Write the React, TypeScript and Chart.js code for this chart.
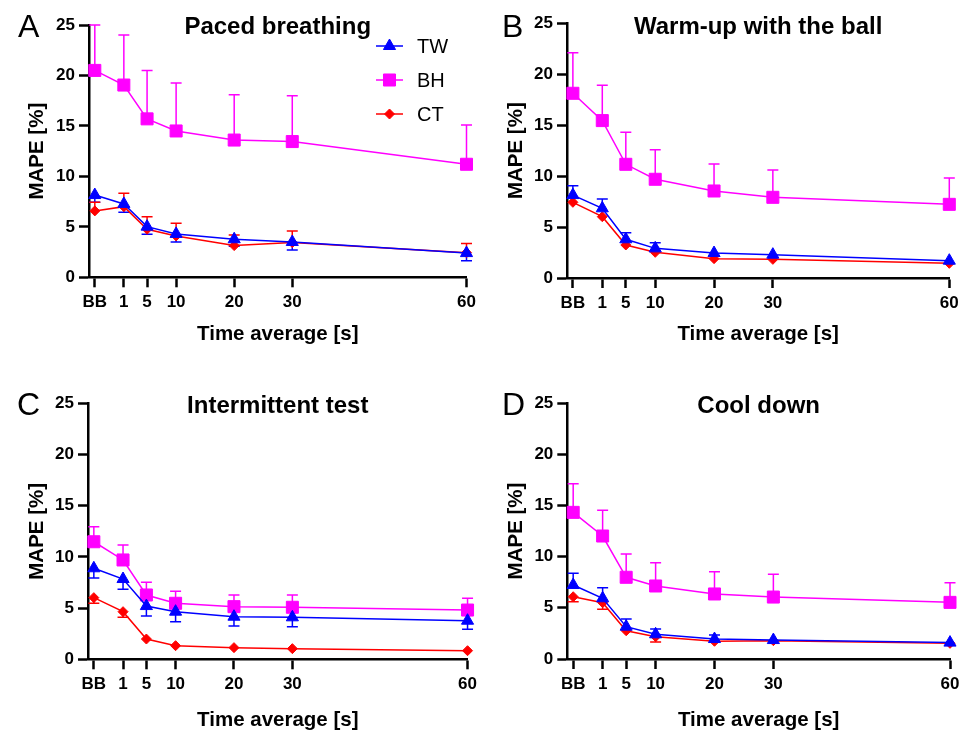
import React, { useEffect, useRef } from "react";
import { Chart, registerables } from "chart.js";

Chart.register(...registerables);

// ---------- data ----------
const xValues = [-4, 1, 5, 10, 20, 30, 60];
const xTickLabels = ["BB", "1", "5", "10", "20", "30", "60"];
const yTicks = [0, 5, 10, 15, 20, 25];

const seriesNames = ["TW", "BH", "CT"];
const seriesColors = ["#0000FF", "#FF00FF", "#FF0000"];
const seriesPointStyles = ["triangle", "rect", "rectRot"];
const seriesPointRadii = [7, 8.5, 5];

// A - Paced breathing
const A_TW = [8.15, 7.27, 5.02, 4.3, 3.77, 3.5, 2.4];
const A_TW_err = [0.72, 0.82, 0.75, 0.8, 0.7, 0.8, 0.76];
const A_BH = [20.5, 19.05, 15.7, 14.5, 13.6, 13.45, 11.2];
const A_BH_err = [4.5, 4.95, 4.8, 4.75, 4.5, 4.55, 3.9];
const A_CT = [6.58, 7.0, 4.76, 4.1, 3.14, 3.44, 2.44];
const A_CT_err = [0.85, 1.33, 1.25, 1.25, 1.06, 1.15, 0.9];
const A_dirs = ["down", "up", "up"];

// B - Warm-up with the ball
const B_TW = [8.14, 6.84, 3.8, 2.91, 2.45, 2.29, 1.7];
const B_TW_err = [0.92, 0.91, 0.65, 0.55, 0, 0, 0];
const B_BH = [18.13, 15.45, 11.16, 9.69, 8.54, 7.92, 7.23];
const B_BH_err = [3.99, 3.46, 3.14, 2.91, 2.65, 2.68, 2.59];
const B_CT = [7.43, 6.02, 3.24, 2.52, 1.9, 1.83, 1.44];
const B_CT_err = [0, 0, 0, 0, 0, 0, 0];
const B_dirs = ["up", "up", "down"];

// C - Intermittent test
const C_TW = [8.89, 7.84, 5.2, 4.65, 4.16, 4.1, 3.77];
const C_TW_err = [0.95, 1.0, 0.97, 0.98, 0.91, 0.92, 0.84];
const C_BH = [11.48, 9.7, 6.28, 5.47, 5.14, 5.08, 4.81];
const C_BH_err = [1.47, 1.46, 1.24, 1.17, 1.14, 1.2, 1.15];
const C_CT = [6.02, 4.65, 1.98, 1.33, 1.14, 1.04, 0.84];
const C_CT_err = [0.55, 0.55, 0, 0, 0, 0, 0];
const C_dirs = ["down", "up", "down"];

// D - Cool down
const D_TW = [7.23, 5.93, 3.16, 2.41, 1.95, 1.85, 1.6];
const D_TW_err = [1.14, 1.03, 0.74, 0.52, 0.39, 0, 0];
const D_BH = [14.32, 12.01, 7.98, 7.13, 6.35, 6.05, 5.53];
const D_BH_err = [2.8, 2.51, 2.27, 2.27, 2.18, 2.22, 1.92];
const D_CT = [6.08, 5.5, 2.76, 2.18, 1.73, 1.79, 1.53];
const D_CT_err = [0.48, 0.65, 0, 0.51, 0, 0, 0];
const D_dirs = ["up", "up", "down"];

const xTitle = "Time average [s]";
const yTitle = "MAPE [%]";

const FONT = "'Liberation Sans', Arial, Helvetica, sans-serif";

type Spec = {
  letter: string;
  title: string;
  series: number[][];
  errs: number[][];
  dirs: string[];
  legend: boolean;
  box: { left: number; top: number; w: number; h: number };
  area: { left: number; right: number; top: number; bottom: number };
  yTitleX: number;
  xTitleY: number;
  titleY: number;
  letterX: number;
  letterY: number;
};

const panels: Spec[] = [
  {
    letter: "A",
    title: "Paced breathing",
    series: [A_TW, A_BH, A_CT],
    errs: [A_TW_err, A_BH_err, A_CT_err],
    dirs: A_dirs,
    legend: true,
    box: { left: 0, top: 0, w: 482, h: 365 },
    area: { left: 89, right: 466.5, top: 25, bottom: 277.3 },
    yTitleX: 43,
    xTitleY: 340,
    titleY: 33.5,
    letterX: 18,
    letterY: 37,
  },
  {
    letter: "B",
    title: "Warm-up with the ball",
    series: [B_TW, B_BH, B_CT],
    errs: [B_TW_err, B_BH_err, B_CT_err],
    dirs: B_dirs,
    legend: false,
    box: { left: 482, top: 0, w: 483, h: 365 },
    area: { left: 85, right: 467.3, top: 23.3, bottom: 278 },
    yTitleX: 40,
    xTitleY: 340,
    titleY: 33.5,
    letterX: 20,
    letterY: 37,
  },
  {
    letter: "C",
    title: "Intermittent test",
    series: [C_TW, C_BH, C_CT],
    errs: [C_TW_err, C_BH_err, C_CT_err],
    dirs: C_dirs,
    legend: false,
    box: { left: 0, top: 365, w: 482, h: 366 },
    area: { left: 88, right: 470, top: 38.3, bottom: 294.3 },
    yTitleX: 43,
    xTitleY: 361,
    titleY: 47.7,
    letterX: 17,
    letterY: 50,
  },
  {
    letter: "D",
    title: "Cool down",
    series: [D_TW, D_BH, D_CT],
    errs: [D_TW_err, D_BH_err, D_CT_err],
    dirs: D_dirs,
    legend: false,
    box: { left: 482, top: 365, w: 483, h: 366 },
    area: { left: 85.3, right: 468, top: 38, bottom: 294 },
    yTitleX: 40,
    xTitleY: 361,
    titleY: 47.7,
    letterX: 20,
    letterY: 50,
  },
];

function drawMarker(ctx: CanvasRenderingContext2D, style: string, x: number, y: number, r: number, color: string) {
  ctx.save();
  ctx.fillStyle = color;
  ctx.strokeStyle = color;
  ctx.lineWidth = 1;
  ctx.beginPath();
  if (style === "triangle") {
    ctx.moveTo(x, y - r);
    ctx.lineTo(x + r * Math.sin((2 * Math.PI) / 3), y - r * Math.cos((2 * Math.PI) / 3));
    ctx.lineTo(x + r * Math.sin((4 * Math.PI) / 3), y - r * Math.cos((4 * Math.PI) / 3));
  } else if (style === "rect") {
    const s = r * Math.SQRT1_2;
    ctx.rect(x - s, y - s, 2 * s, 2 * s);
  } else {
    ctx.moveTo(x, y - r);
    ctx.lineTo(x + r, y);
    ctx.lineTo(x, y + r);
    ctx.lineTo(x - r, y);
  }
  ctx.closePath();
  ctx.fill();
  ctx.stroke();
  ctx.restore();
}

function Panel({ spec }: { spec: Spec }) {
  const ref = useRef<HTMLCanvasElement | null>(null);

  useEffect(() => {
    const canvas = ref.current;
    if (!canvas) return;
    const { box, area } = spec;

    const datasets = seriesNames.map((name, i) => ({
      label: name,
      data: xValues.map((x, j) => ({ x, y: spec.series[i][j] })),
      borderColor: seriesColors[i],
      backgroundColor: seriesColors[i],
      borderWidth: 1.5,
      pointStyle: seriesPointStyles[i],
      pointRadius: seriesPointRadii[i],
      pointHoverRadius: seriesPointRadii[i],
      pointBorderWidth: 1,
      pointBackgroundColor: seriesColors[i],
      pointBorderColor: seriesColors[i],
      tension: 0,
      fill: false,
      clip: false,
    }));

    const decor = {
      id: "decor" + spec.letter,
      beforeDatasetsDraw(chart: any) {
        const ctx: CanvasRenderingContext2D = chart.ctx;
        const ys = chart.scales.y;
        ctx.save();
        ctx.lineWidth = 1.5;
        chart.data.datasets.forEach((ds: any, i: number) => {
          const meta = chart.getDatasetMeta(i);
          const errs = spec.errs[i];
          const dir = spec.dirs[i];
          ctx.strokeStyle = seriesColors[i];
          meta.data.forEach((el: any, j: number) => {
            const e = errs[j];
            if (!e) return;
            const v = spec.series[i][j];
            const ends: number[] = [];
            if (dir === "up" || dir === "both") ends.push(ys.getPixelForValue(v + e));
            if (dir === "down" || dir === "both") ends.push(ys.getPixelForValue(v - e));
            ends.forEach((yEnd) => {
              ctx.beginPath();
              ctx.moveTo(el.x, el.y);
              ctx.lineTo(el.x, yEnd);
              ctx.moveTo(el.x - 5.5, yEnd);
              ctx.lineTo(el.x + 5.5, yEnd);
              ctx.stroke();
            });
          });
        });
        ctx.restore();
      },
      afterDraw(chart: any) {
        const ctx: CanvasRenderingContext2D = chart.ctx;
        const ca = chart.chartArea;
        ctx.save();
        ctx.fillStyle = "#000";
        // panel letter
        ctx.font = `normal 32px ${FONT}`;
        ctx.textAlign = "left";
        ctx.textBaseline = "alphabetic";
        ctx.fillText(spec.letter, spec.letterX, spec.letterY);
        // title
        ctx.font = `bold 24px ${FONT}`;
        ctx.textAlign = "center";
        ctx.fillText(spec.title, (ca.left + ca.right) / 2, spec.titleY);
        // x title
        ctx.font = `bold 20.5px ${FONT}`;
        ctx.fillText(xTitle, (ca.left + ca.right) / 2, spec.xTitleY);
        // y title
        ctx.save();
        ctx.translate(spec.yTitleX, (ca.top + ca.bottom) / 2);
        ctx.rotate(-Math.PI / 2);
        ctx.textAlign = "center";
        ctx.fillText(yTitle, 0, 0);
        ctx.restore();
        // legend
        if (spec.legend) {
          const legendY = [46, 80, 114];
          seriesNames.forEach((name, i) => {
            const y = legendY[i];
            ctx.strokeStyle = seriesColors[i];
            ctx.lineWidth = 1.5;
            ctx.beginPath();
            ctx.moveTo(376, y);
            ctx.lineTo(403, y);
            ctx.stroke();
            drawMarker(ctx, seriesPointStyles[i], 389.5, y, seriesPointRadii[i], seriesColors[i]);
            ctx.fillStyle = "#000";
            ctx.font = `normal 20px ${FONT}`;
            ctx.textAlign = "left";
            ctx.textBaseline = "middle";
            ctx.fillText(name, 417, y + 1);
          });
        }
        ctx.restore();
      },
    };

    const chart = new Chart(canvas, {
      type: "line",
      data: { datasets: datasets as any },
      options: {
        responsive: false,
        animation: false,
        events: [],
        devicePixelRatio: 1,
        layout: {
          padding: { left: 0, top: area.top, right: box.w - area.right, bottom: 0 },
        },
        plugins: {
          legend: { display: false },
          tooltip: { enabled: false },
          title: { display: false },
        },
        scales: {
          x: {
            type: "linear",
            min: -5,
            max: 60,
            afterBuildTicks: (s: any) => {
              s.ticks = xValues.map((v) => ({ value: v }));
            },
            afterFit: (s: any) => {
              s.height = box.h - area.bottom;
            },
            ticks: {
              autoSkip: false,
              maxRotation: 0,
              color: "#000",
              padding: 5,
              font: { family: FONT, size: 17, weight: "bold" },
              callback: (v: any) => {
                const idx = xValues.indexOf(Number(v));
                return idx >= 0 ? xTickLabels[idx] : "";
              },
            },
            grid: {
              drawOnChartArea: false,
              drawTicks: true,
              tickLength: 10,
              tickWidth: 2.5,
              tickColor: "#000",
            },
            border: { display: true, color: "#000", width: 2.5 },
          },
          y: {
            type: "linear",
            min: 0,
            max: 25,
            afterBuildTicks: (s: any) => {
              s.ticks = yTicks.map((v) => ({ value: v }));
            },
            afterFit: (s: any) => {
              s.width = area.left;
            },
            ticks: {
              color: "#000",
              padding: 4,
              font: { family: FONT, size: 17, weight: "bold" },
            },
            grid: {
              drawOnChartArea: false,
              drawTicks: true,
              tickLength: 10,
              tickWidth: 2.5,
              tickColor: "#000",
            },
            border: { display: true, color: "#000", width: 2.5 },
          },
        },
      } as any,
      plugins: [decor],
    });

    return () => {
      chart.destroy();
    };
  }, [spec]);

  return (
    <canvas
      ref={ref}
      width={spec.box.w}
      height={spec.box.h}
      style={{
        position: "absolute",
        left: spec.box.left,
        top: spec.box.top,
        width: spec.box.w,
        height: spec.box.h,
      }}
    />
  );
}

export default function App() {
  return (
    <div
      style={{
        position: "fixed",
        left: 0,
        top: 0,
        width: 965,
        height: 731,
        background: "#fff",
        overflow: "hidden",
      }}
    >
      {panels.map((p) => (
        <Panel key={p.letter} spec={p} />
      ))}
    </div>
  );
}
